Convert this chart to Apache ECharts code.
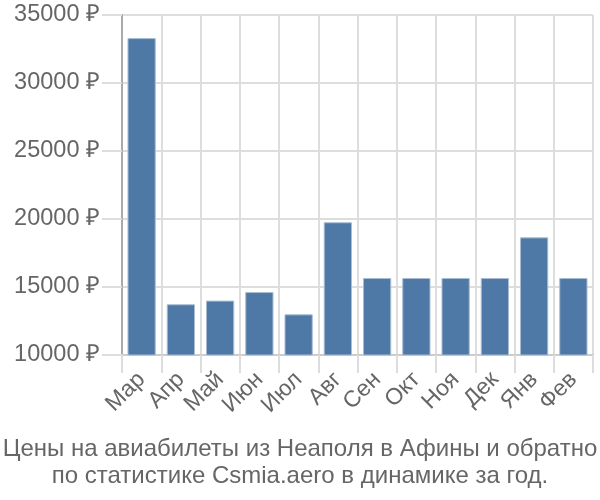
<!DOCTYPE html>
<html><head><meta charset="utf-8">
<script src="https://cdn.jsdelivr.net/npm/echarts@6/dist/echarts.min.js"></script>
<style>html,body{margin:0;padding:0;background:#fff}#c{width:600px;height:500px}</style>
</head><body><div id="c"></div>
<script>
const categories = ['Мар','Апр','Май','Июн','Июл','Авг','Сен','Окт','Ноя','Дек','Янв','Фев'];
const prices = [33300, 13730, 14000, 14630, 12990, 19760, 15660, 15660, 15660, 15660, 18650, 15660];
const titleLines = ['Цены на авиабилеты из Неаполя в Афины и обратно', 'по статистике Csmia.aero в динамике за год.'];
const chart = echarts.init(document.getElementById('c'), null, {renderer:'canvas'});
const font = 'Liberation Sans, Arial, sans-serif';
chart.setOption({
  animation:false,
  title:{text:titleLines.join('\n'), left:'center', top:431,
    textStyle:{fontFamily:font, fontSize:24, fontWeight:'normal', color:'#666', lineHeight:27}},
  grid:{left:122, right:7, top:15, bottom:145, containLabel:false},
  xAxis:{type:'category', data:categories,
    axisLine:{show:true, lineStyle:{color:'#ccc', width:2}},
    axisTick:{show:true, length:18, interval:0, lineStyle:{color:'#ddd', width:2}},
    splitLine:{show:true, interval:0, lineStyle:{color:'#ddd', width:2}},
    axisLabel:{interval:0, rotate:45, fontFamily:font, fontSize:23, color:'#666', margin:21}},
  yAxis:{type:'value', min:10000, max:35000, interval:5000,
    axisLine:{show:true, lineStyle:{color:'#aaa', width:2}},
    axisTick:{show:true, length:20, lineStyle:{color:'#ddd', width:2}},
    splitLine:{show:true, lineStyle:{color:'#ddd', width:2}},
    axisLabel:{formatter:function(v){return v + ' ₽';}, fontFamily:font, fontSize:23.5, color:'#666', margin:22}},
  series:[{type:'bar', data:prices, barCategoryGap:'28%',
    itemStyle:{color:'#4e79a7', borderColor:'#a9bdd3', borderWidth:1}}]
});
</script></body></html>
